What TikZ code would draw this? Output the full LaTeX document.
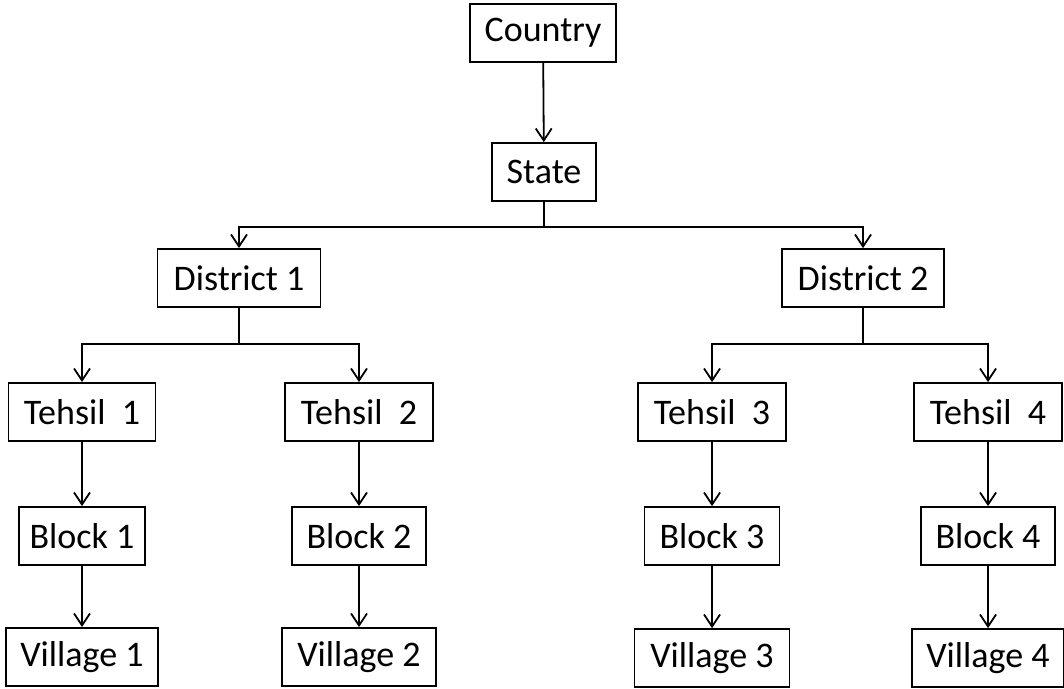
\documentclass[tikz,border=0pt]{standalone}
\usepackage{fontspec}
\setmainfont{Carlito}
\usetikzlibrary{arrows.meta}
\tikzset{
  box/.style={draw, line width=1.8pt, inner sep=0pt, minimum height=58pt,
    font=\fontsize{36}{40}\selectfont},
  arr/.style={line width=1.8pt, -{Straight Barb[length=12pt,width=16pt]}},
  link/.style={line width=1.8pt},
}
\begin{document}
\begin{tikzpicture}[x=1pt,y=-1pt]
  \useasboundingbox (0,0) rectangle (1064,688);
  %Top
  \node[box, minimum width=146pt] (country) at (543,33) {Country};
  \node[box, minimum width=104pt] (state) at (544,172) {State};
  %Districts
  \node[box, minimum width=163pt] (d1) at (239,278) {District 1};
  \node[box, minimum width=162pt] (d2) at (863,278) {District 2};
  %Tehsils
  \node[box, minimum width=147pt] (t1) at (82,412) {Tehsil\ \ 1};
  \node[box, minimum width=148pt] (t2) at (359,412) {Tehsil\ \ 2};
  \node[box, minimum width=148pt] (t3) at (712,412) {Tehsil\ \ 3};
  \node[box, minimum width=148pt] (t4) at (988,412) {Tehsil\ \ 4};
  %Blocks
  \node[box, minimum width=126pt] (b1) at (82,536) {Block 1};
  \node[box, minimum width=134pt] (b2) at (359,536) {Block 2};
  \node[box, minimum width=135pt] (b3) at (712,536) {Block 3};
  \node[box, minimum width=134pt] (b4) at (988,536) {Block 4};
  %Villages
  \node[box, minimum width=152pt] (v1) at (82,657) {Village 1};
  \node[box, minimum width=154pt] (v2) at (359,657) {Village 2};
  \node[box, minimum width=155pt] (v3) at (712,658) {Village 3};
  \node[box, minimum width=152pt] (v4) at (988,658) {Village 4};

  %Forks
  \coordinate (sfork) at (544,227);
  \coordinate (d1fork) at (239,344);
  \coordinate (d2fork) at (863,344);

  \draw[arr] (country) -- (state);
  \draw[link] (state) -- (sfork);
  \draw[arr] (sfork) -| (d1);
  \draw[arr] (sfork) -| (d2);
  \draw[link] (d1) -- (d1fork);
  \draw[arr] (d1fork) -| (t1);
  \draw[arr] (d1fork) -| (t2);
  \draw[link] (d2) -- (d2fork);
  \draw[arr] (d2fork) -| (t3);
  \draw[arr] (d2fork) -| (t4);
  %Chains
  \foreach \i in {1,2,3,4} {
    \draw[arr] (t\i) -- (b\i);
    \draw[arr] (b\i) -- (v\i);
  }
\end{tikzpicture}
\end{document}
